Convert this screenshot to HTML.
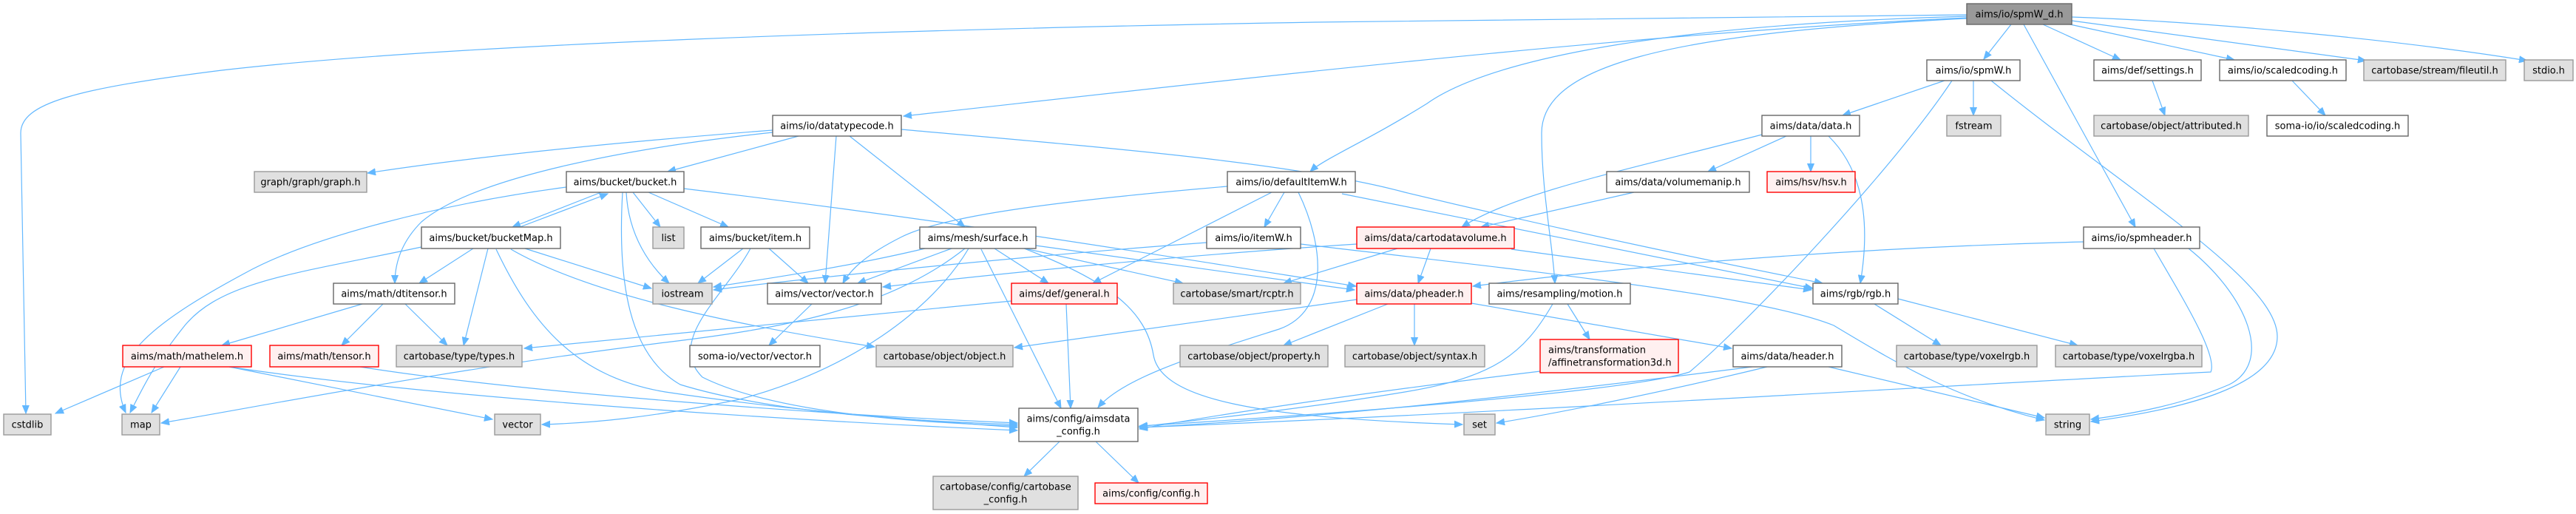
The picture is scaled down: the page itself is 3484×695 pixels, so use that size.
<!DOCTYPE html>
<html><head><meta charset="utf-8">
<style>
html,body{margin:0;padding:0;background:#fff;}
svg{display:block;}
text{font-family:"DejaVu Sans","Liberation Sans",sans-serif;font-size:13px;fill:#000;}
.w{fill:#fff;stroke:#666;stroke-width:1.4}
.g{fill:#e0e0e0;stroke:#999;stroke-width:1.4}
.r{fill:#fff0f0;stroke:#f00;stroke-width:1.4}
.d{fill:#999;stroke:#666;stroke-width:1.4}
.e path{fill:none;stroke:#63b8ff;stroke-width:1.2;marker-end:url(#a)}
</style></head>
<body>
<svg width="3484" height="695" viewBox="0 0 3484 695" xmlns="http://www.w3.org/2000/svg">
<defs>
<marker id="a" markerWidth="12" markerHeight="10" refX="11" refY="5" orient="auto" markerUnits="userSpaceOnUse">
<path d="M0,0.5 L11,5 L0,9.5 z" fill="#63b8ff" stroke="#63b8ff" stroke-width="1"/>
</marker>
</defs>
<g class="e">
<path d="M2720,33 L2683,80"/>
<path d="M2763,33 L2868,81"/>
<path d="M2795,32 L3022,81"/>
<path d="M2802,28 L3200,82"/>
<path d="M2802,23 C3000,30 3250,55 3418,82"/>
<path d="M2737,33 L2888,307"/>
<path d="M2660,24 C2200,45 1650,110 1222,157"/>
<path d="M2660,20 L1780,30 C1200,40 600,60 300,95 C100,120 28,140 28,180 L35,559"/>
<path d="M2660,22 C2200,35 2000,90 1930,140 C1850,190 1790,215 1772,232"/>
<path d="M2660,25 C2250,45 2085,90 2085,180 C2085,260 2100,330 2103,383"/>
<path d="M2911,109 L2928,156"/>
<path d="M3100,109 L3145,156"/>
<path d="M2630,109 L2492,156"/>
<path d="M2669,109 L2669,156"/>
<path d="M2693,109 C2880,260 3080,380 3080,455 C3080,525 2940,555 2828,570"/>
<path d="M2640,109 C2560,230 2360,440 2285,503 C2200,530 1800,560 1541,576"/>
<path d="M2818,327 C2500,335 2200,360 1992,387"/>
<path d="M2960,336 C3040,400 3075,490 3015,520 C2950,548 2880,560 2828,567"/>
<path d="M2913,336 C2950,400 3000,480 2990,503 C2600,523 2000,560 1541,578"/>
<path d="M2383,182 C2200,230 2050,260 1977,307"/>
<path d="M2416,184 L2310,232"/>
<path d="M2449,184 L2449,232"/>
<path d="M2473,184 C2520,230 2530,300 2516,383"/>
<path d="M2210,260 L2003,307"/>
<path d="M1045,176 C800,195 620,215 497,234"/>
<path d="M1045,179 C850,200 640,240 570,300 C540,330 534,360 534,383"/>
<path d="M1080,184 L903,232"/>
<path d="M1131,184 L1116,383"/>
<path d="M1149,184 L1305,307"/>
<path d="M1219,175 C1500,200 1750,220 1900,260 C2150,320 2350,360 2465,383"/>
<path d="M766,253 C600,275 420,320 330,370 C200,440 140,490 170,558"/>
<path d="M813,260 L693,307"/>
<path d="M703,307 L822,262"/>
<path d="M856,260 L893,307"/>
<path d="M877,260 L985,307"/>
<path d="M847,260 C850,320 880,360 905,383"/>
<path d="M842,260 C835,380 850,480 920,520 C1050,560 1250,570 1376,574"/>
<path d="M925,255 C1300,300 1600,350 1834,387"/>
<path d="M640,336 L567,383"/>
<path d="M660,336 L627,467"/>
<path d="M710,336 L881,390"/>
<path d="M691,337 C800,400 1000,440 1183,469"/>
<path d="M671,337 C720,440 780,510 900,530 C1100,560 1300,572 1376,578"/>
<path d="M570,334 C400,370 300,380 250,440 C210,490 195,520 176,558"/>
<path d="M1005,336 L944,383"/>
<path d="M1040,336 L1093,383"/>
<path d="M1015,336 C980,400 900,460 950,510 C1050,560 1250,572 1376,576"/>
<path d="M490,411 L300,467"/>
<path d="M518,411 L462,467"/>
<path d="M548,411 L605,467"/>
<path d="M222,496 L75,559"/>
<path d="M244,496 L205,558"/>
<path d="M310,496 L666,567"/>
<path d="M310,496 C600,540 1100,570 1376,582"/>
<path d="M487,496 C700,530 1100,560 1376,572"/>
<path d="M1287,336 L1160,383"/>
<path d="M1251,336 C1150,360 1050,375 965,388"/>
<path d="M1345,336 L1418,383"/>
<path d="M1386,336 L1600,383"/>
<path d="M1401,332 L1832,392"/>
<path d="M1327,337 L1435,552"/>
<path d="M1310,336 C1260,420 1150,500 1000,540 C880,565 800,572 733,574"/>
<path d="M1305,336 C1200,420 1050,445 900,463 C600,500 350,550 218,572"/>
<path d="M1385,336 C1500,380 1550,420 1560,480 C1570,540 1700,565 1978,574"/>
<path d="M1660,252 C1450,270 1280,290 1220,320 C1170,345 1150,365 1140,383"/>
<path d="M1720,260 L1478,383"/>
<path d="M1737,260 L1710,307"/>
<path d="M1756,260 C1790,330 1800,420 1730,445 C1620,480 1520,510 1485,551"/>
<path d="M1815,262 L2452,390"/>
<path d="M1632,328 C1400,345 1100,375 965,392"/>
<path d="M1759,330 C2100,370 2380,400 2480,440 C2580,500 2650,540 2765,568"/>
<path d="M1935,336 L1918,383"/>
<path d="M1835,330 C1600,345 1350,370 1194,388"/>
<path d="M1890,336 L1736,383"/>
<path d="M2044,337 L2450,392"/>
<path d="M1835,405 L1372,470"/>
<path d="M1877,411 L1736,467"/>
<path d="M1913,411 L1913,467"/>
<path d="M1990,410 L2342,471"/>
<path d="M2120,411 L2150,459"/>
<path d="M2100,411 C2060,480 2020,510 1900,530 C1750,555 1600,570 1541,577"/>
<path d="M2083,502 C1850,530 1650,560 1541,580"/>
<path d="M2390,496 C2250,530 2100,560 2024,572"/>
<path d="M2370,496 C2100,530 1800,565 1541,578"/>
<path d="M2473,496 L2765,565"/>
<path d="M2535,411 L2625,467"/>
<path d="M2567,404 L2810,467"/>
<path d="M1442,411 L1448,552"/>
<path d="M1368,407 L709,471"/>
<path d="M1433,597 L1385,644"/>
<path d="M1482,597 L1540,653"/>
<path d="M1098,411 L1040,467"/>
</g>

<g>
<rect class="d" x="2660" y="5" width="142" height="28"/><text x="2731" y="23.5" text-anchor="middle">aims/io/spmW_d.h</text>
<rect class="w" x="2606" y="81" width="126" height="28"/><text x="2669" y="99.5" text-anchor="middle">aims/io/spmW.h</text>
<rect class="w" x="2832" y="81" width="145" height="28"/><text x="2904.5" y="99.5" text-anchor="middle">aims/def/settings.h</text>
<rect class="w" x="3002" y="81" width="171" height="28"/><text x="3087.5" y="99.5" text-anchor="middle">aims/io/scaledcoding.h</text>
<rect class="g" x="3197" y="81" width="192" height="28"/><text x="3293" y="99.5" text-anchor="middle">cartobase/stream/fileutil.h</text>
<rect class="g" x="3414" y="81" width="66" height="28"/><text x="3447" y="99.5" text-anchor="middle">stdio.h</text>

<rect class="w" x="1045" y="156" width="174" height="28"/><text x="1132" y="174.5" text-anchor="middle">aims/io/datatypecode.h</text>
<rect class="w" x="2383" y="156" width="132" height="28"/><text x="2449" y="174.5" text-anchor="middle">aims/data/data.h</text>
<rect class="g" x="2633" y="156" width="73" height="28"/><text x="2669.5" y="174.5" text-anchor="middle">fstream</text>
<rect class="g" x="2832" y="156" width="209" height="28"/><text x="2936.5" y="174.5" text-anchor="middle">cartobase/object/attributed.h</text>
<rect class="w" x="3066" y="156" width="191" height="28"/><text x="3161.5" y="174.5" text-anchor="middle">soma-io/io/scaledcoding.h</text>

<rect class="g" x="344" y="232" width="152" height="28"/><text x="420" y="250.5" text-anchor="middle">graph/graph/graph.h</text>
<rect class="w" x="766" y="232" width="159" height="28"/><text x="845.5" y="250.5" text-anchor="middle">aims/bucket/bucket.h</text>
<rect class="w" x="1660" y="232" width="173" height="28"/><text x="1746.5" y="250.5" text-anchor="middle">aims/io/defaultItemW.h</text>
<rect class="w" x="2173" y="232" width="193" height="28"/><text x="2269.5" y="250.5" text-anchor="middle">aims/data/volumemanip.h</text>
<rect class="r" x="2390" y="232" width="119" height="28"/><text x="2449.5" y="250.5" text-anchor="middle">aims/hsv/hsv.h</text>

<rect class="w" x="570" y="307" width="188" height="29"/><text x="664" y="326" text-anchor="middle">aims/bucket/bucketMap.h</text>
<rect class="g" x="883" y="307" width="42" height="29"/><text x="904" y="326" text-anchor="middle">list</text>
<rect class="w" x="948" y="307" width="147" height="29"/><text x="1021.5" y="326" text-anchor="middle">aims/bucket/item.h</text>
<rect class="w" x="1244" y="307" width="157" height="29"/><text x="1322.5" y="326" text-anchor="middle">aims/mesh/surface.h</text>
<rect class="w" x="1632" y="307" width="127" height="29"/><text x="1695.5" y="326" text-anchor="middle">aims/io/itemW.h</text>
<rect class="r" x="1835" y="307" width="213" height="29"/><text x="1941.5" y="326" text-anchor="middle">aims/data/cartodatavolume.h</text>
<rect class="w" x="2818" y="307" width="157" height="29"/><text x="2896.5" y="326" text-anchor="middle">aims/io/spmheader.h</text>

<rect class="w" x="451" y="383" width="164" height="28"/><text x="533" y="401.5" text-anchor="middle">aims/math/dtitensor.h</text>
<rect class="g" x="883" y="383" width="80" height="28"/><text x="923" y="401.5" text-anchor="middle">iostream</text>
<rect class="w" x="1038" y="383" width="154" height="28"/><text x="1115" y="401.5" text-anchor="middle">aims/vector/vector.h</text>
<rect class="r" x="1368" y="383" width="143" height="28"/><text x="1439.5" y="401.5" text-anchor="middle">aims/def/general.h</text>
<rect class="g" x="1587" y="383" width="172" height="28"/><text x="1673" y="401.5" text-anchor="middle">cartobase/smart/rcptr.h</text>
<rect class="r" x="1835" y="383" width="155" height="28"/><text x="1912.5" y="401.5" text-anchor="middle">aims/data/pheader.h</text>
<rect class="w" x="2014" y="383" width="191" height="28"/><text x="2109.5" y="401.5" text-anchor="middle">aims/resampling/motion.h</text>
<rect class="w" x="2452" y="383" width="115" height="28"/><text x="2509.5" y="401.5" text-anchor="middle">aims/rgb/rgb.h</text>

<rect class="r" x="166" y="467" width="174" height="29"/><text x="253" y="486" text-anchor="middle">aims/math/mathelem.h</text>
<rect class="r" x="365" y="467" width="147" height="29"/><text x="438.5" y="486" text-anchor="middle">aims/math/tensor.h</text>
<rect class="g" x="536" y="467" width="170" height="29"/><text x="621" y="486" text-anchor="middle">cartobase/type/types.h</text>
<rect class="w" x="933" y="467" width="176" height="29"/><text x="1021" y="486" text-anchor="middle">soma-io/vector/vector.h</text>
<rect class="g" x="1185" y="467" width="185" height="29"/><text x="1277.5" y="486" text-anchor="middle">cartobase/object/object.h</text>
<rect class="g" x="1596" y="467" width="200" height="29"/><text x="1696" y="486" text-anchor="middle">cartobase/object/property.h</text>
<rect class="g" x="1819" y="467" width="189" height="29"/><text x="1913.5" y="486" text-anchor="middle">cartobase/object/syntax.h</text>
<rect class="r" x="2083" y="459" width="187" height="45"/><text x="2094" y="477.5">aims/transformation</text><text x="2094" y="494.5">/affinetransformation3d.h</text>
<rect class="w" x="2344" y="467" width="147" height="29"/><text x="2417.5" y="486" text-anchor="middle">aims/data/header.h</text>
<rect class="g" x="2565" y="467" width="190" height="29"/><text x="2660" y="486" text-anchor="middle">cartobase/type/voxelrgb.h</text>
<rect class="g" x="2780" y="467" width="198" height="29"/><text x="2879" y="486" text-anchor="middle">cartobase/type/voxelrgba.h</text>

<rect class="g" x="5" y="560" width="64" height="28"/><text x="37" y="578.5" text-anchor="middle">cstdlib</text>
<rect class="g" x="165" y="560" width="51" height="28"/><text x="190.5" y="578.5" text-anchor="middle">map</text>
<rect class="g" x="669" y="560" width="62" height="28"/><text x="700" y="578.5" text-anchor="middle">vector</text>
<rect class="w" x="1378" y="552" width="161" height="45"/><text x="1458.5" y="570.5" text-anchor="middle">aims/config/aimsdata</text><text x="1458.5" y="587.5" text-anchor="middle">_config.h</text>
<rect class="g" x="1980" y="560" width="42" height="28"/><text x="2001" y="578.5" text-anchor="middle">set</text>
<rect class="g" x="2767" y="560" width="59" height="28"/><text x="2796.5" y="578.5" text-anchor="middle">string</text>

<rect class="g" x="1262" y="644" width="196" height="45"/><text x="1360" y="662.5" text-anchor="middle">cartobase/config/cartobase</text><text x="1360" y="679.5" text-anchor="middle">_config.h</text>
<rect class="r" x="1481" y="653" width="152" height="28"/><text x="1557" y="671.5" text-anchor="middle">aims/config/config.h</text>
</g>
</svg>
</body></html>
